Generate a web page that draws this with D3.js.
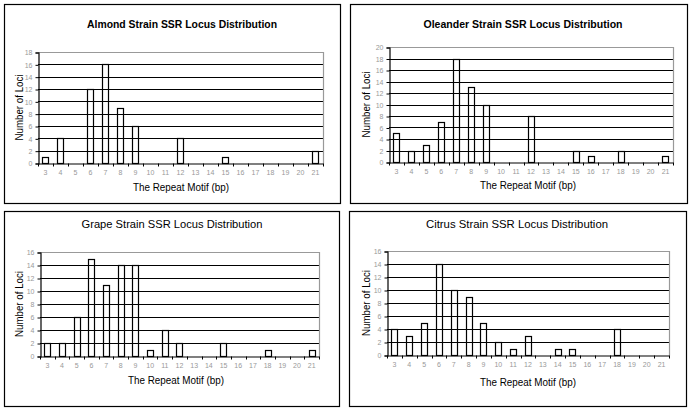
<!DOCTYPE html>
<html>
<head>
<meta charset="utf-8">
<script src="https://cdn.jsdelivr.net/npm/d3@7"></script>
<style>
  body { margin: 0; background: #fff; }
  svg { display: block; font-family: "Liberation Sans", Arial, sans-serif; }
</style>
</head>
<body>
<div id="chart"></div>
<script>
// repeat motif categories (bp) shared by all four charts
var motifs = ["3","4","5","6","7","8","9","10","11","12","13","14","15","16","17","18","19","20","21"];

// number of loci per motif, one array per strain
var almondLoci   = [1, 4, 0, 12, 16, 9, 6, 0, 0, 4, 0, 0, 1, 0, 0, 0, 0, 0, 2];
var oleanderLoci = [5, 2, 3, 7, 18, 13, 10, 0, 0, 8, 0, 0, 2, 1, 0, 2, 0, 0, 1];
var grapeLoci    = [2, 2, 6, 15, 11, 14, 14, 1, 4, 2, 0, 0, 2, 0, 0, 1, 0, 0, 1];
var citrusLoci   = [4, 3, 5, 14, 10, 9, 5, 2, 1, 3, 0, 1, 1, 0, 0, 4, 0, 0, 0];

var titles = ["Almond Strain SSR Locus Distribution", "Oleander Strain SSR Locus Distribution",
              "Grape Strain SSR Locus Distribution", "Citrus Strain SSR Locus Distribution"];
var yMax = [18, 20, 16, 16];
var xTitle = "The Repeat Motif (bp)";
var yTitle = "Number of Loci";

// panel layout (box, plot area, title positions)
var panels = [
  { data: almondLoci, title: titles[0], ymax: yMax[0], bold: true, tw: 190,
    box: [4, 4, 340, 203], plot: [38, 52, 323, 163], tx: 182, ty: 28, xtx: 181, xty: 191, ytx: 19 },
  { data: oleanderLoci, title: titles[1], ymax: yMax[1], bold: true, tw: 199,
    box: [350, 4, 687, 203], plot: [389, 47, 673, 162], tx: 523, ty: 28, xtx: 528, xty: 189, ytx: 366 },
  { data: grapeLoci, title: titles[2], ymax: yMax[2], bold: false, tw: 181,
    box: [4, 211, 339, 406], plot: [40, 252, 319, 356], tx: 172, ty: 228, xtx: 176, xty: 384, ytx: 19 },
  { data: citrusLoci, title: titles[3], ymax: yMax[3], bold: false, tw: 182,
    box: [349, 211, 686, 406], plot: [387, 251, 669, 355], tx: 517, ty: 228, xtx: 528, xty: 386, ytx: 366 }
];

var svg = d3.select("#chart").append("svg")
  .attr("width", 692)
  .attr("height", 413);

panels.forEach(function(p) {
  var g = svg.append("g");

  // pair each value with its motif, drop the empty ones
  var rows = p.data.map(function(v, i) { return { motif: motifs[i], loci: v }; })
    .filter(function(d) { return d.loci > 0; });

  // outer frame
  g.append("rect")
    .attr("x", p.box[0] + 0.5).attr("y", p.box[1] + 0.5)
    .attr("width", p.box[2] - p.box[0]).attr("height", p.box[3] - p.box[1])
    .attr("fill", "#fff").attr("stroke", "#000").attr("stroke-width", 1.2);

  var x = d3.scaleBand()
    .domain(motifs)
    .range([p.plot[0], p.plot[2]]);

  var y = d3.scaleLinear()
    .domain([0, p.ymax])
    .range([p.plot[3], p.plot[1]]);

  var ticks = d3.range(0, p.ymax + 1, 2);

  // gridlines (top one is the grey plot border)
  g.selectAll(".grid")
    .data(ticks.filter(function(d) { return d > 0 && d < p.ymax; }))
    .enter().append("line")
    .attr("x1", p.plot[0]).attr("x2", p.plot[2])
    .attr("y1", function(d) { return Math.round(y(d)) + 0.5; })
    .attr("y2", function(d) { return Math.round(y(d)) + 0.5; })
    .attr("stroke", "#000").attr("stroke-width", 1.2);

  // grey plot border top + right
  g.append("path")
    .attr("d", "M" + p.plot[0] + "," + (Math.round(y(p.ymax)) + 0.5) +
               "H" + (p.plot[2] + 0.5) + "V" + (Math.round(y(0)) + 0.5))
    .attr("fill", "none").attr("stroke", "#999").attr("stroke-width", 1.2);

  // bars, open outlines
  var bw = x.bandwidth() * 0.42;
  g.selectAll(".bar")
    .data(rows)
    .enter().append("rect")
    .attr("x", function(d) { return Math.round(x(d.motif) + (x.bandwidth() - bw) / 2) + 0.5; })
    .attr("y", function(d) { return Math.round(y(d.loci)) + 0.5; })
    .attr("width", Math.round(bw))
    .attr("height", function(d) { return Math.round(y(0)) - Math.round(y(d.loci)); })
    .attr("fill", "none").attr("stroke", "#000").attr("stroke-width", 1.2);

  // y axis
  var yAxis = d3.axisLeft(y).tickValues(ticks).tickSize(3).tickPadding(3);
  var ya = g.append("g")
    .attr("transform", "translate(" + (p.plot[0] + 0.5) + ",0.5)")
    .call(yAxis);
  ya.select(".domain").attr("stroke", "#000").attr("stroke-width", 1.2);
  ya.selectAll(".tick line").attr("stroke", "#000");
  ya.selectAll(".tick text").attr("fill", "#999").style("font-size", "7px")
    .style("font-family", "'Liberation Sans', Arial, sans-serif");

  // x axis with tick marks between categories
  var xAxis = d3.axisBottom(x).tickSize(0).tickPadding(7);
  var xa = g.append("g")
    .attr("transform", "translate(0," + (Math.round(y(0)) + 0.5) + ")")
    .call(xAxis);
  xa.select(".domain").attr("stroke", "#000").attr("stroke-width", 1.2);
  xa.selectAll(".tick text").attr("fill", "#999").style("font-size", "7px")
    .style("font-family", "'Liberation Sans', Arial, sans-serif");
  xa.selectAll(".sep")
    .data(motifs.concat(["end"]))
    .enter().append("line")
    .attr("x1", function(d, i) { return Math.round(p.plot[0] + i * x.step()) + 0.5; })
    .attr("x2", function(d, i) { return Math.round(p.plot[0] + i * x.step()) + 0.5; })
    .attr("y1", 0).attr("y2", 3)
    .attr("stroke", "#000");

  // titles
  g.append("text")
    .attr("x", p.tx).attr("y", p.ty)
    .attr("text-anchor", "middle")
    .attr("textLength", p.tw).attr("lengthAdjust", "spacingAndGlyphs")
    .style("font-size", "11px")
    .style("font-weight", p.bold ? "bold" : "normal")
    .text(p.title);

  g.append("text")
    .attr("x", p.xtx).attr("y", p.xty)
    .attr("text-anchor", "middle")
    .attr("textLength", 96).attr("lengthAdjust", "spacingAndGlyphs")
    .style("font-size", "10.5px")
    .text(xTitle);

  var ymid = (p.plot[1] + p.plot[3]) / 2;
  g.append("text")
    .attr("transform", "translate(" + (p.ytx + 4) + "," + ymid + ") rotate(-90)")
    .attr("text-anchor", "middle")
    .attr("textLength", 66).attr("lengthAdjust", "spacingAndGlyphs")
    .style("font-size", "11px")
    .text(yTitle);
});
</script>
</body>
</html>
